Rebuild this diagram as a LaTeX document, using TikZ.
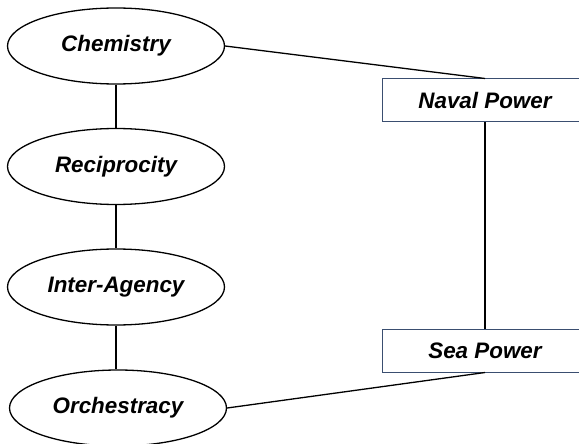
\documentclass[tikz,border=0pt]{standalone}
\usepackage{fontspec}
\setmainfont{Liberation Sans}
\usetikzlibrary{shapes.geometric}
\definecolor{boxline}{RGB}{58,78,112}
\tikzset{
  oval/.style={ellipse, draw=black, line width=1.3pt, fill=white, minimum width=217pt, minimum height=76pt, inner sep=0pt, font=\fontsize{22.4}{26}\selectfont\bfseries\itshape},
  rbox/.style={rectangle, draw=boxline, line width=1pt, fill=white, minimum width=206pt, minimum height=43pt, inner sep=0pt, font=\fontsize{22.4}{26}\selectfont\bfseries\itshape},
  link/.style={draw=black, line width=1.3pt}
}
\begin{document}
\begin{tikzpicture}[x=1pt,y=-1pt]
\useasboundingbox (0,0) rectangle (579,444);
\begin{scope}
\clip (0,0) rectangle (579,444);
\node[oval] (chem) at (116,46) {Chemistry};
\node[oval] (reci) at (116,166.5) {Reciprocity};
\node[oval] (inter) at (116,287) {Inter-Agency};
\node[oval] (orch) at (118,408) {Orchestracy};
\node[rbox] (naval) at (485,100.5) {Naval Power};
\node[rbox] (sea) at (485,350.5) {Sea Power};
\draw[link] (chem.south) -- (reci.north);
\draw[link] (reci.south) -- (inter.north);
\draw[link] (inter.south) -- (inter.south |- orch.north);
\draw[link] (chem.east) -- (naval.north);
\draw[link] (naval.south) -- (sea.north);
\draw[link] (orch.east) -- (sea.south);
\end{scope}
\end{tikzpicture}
\end{document}
